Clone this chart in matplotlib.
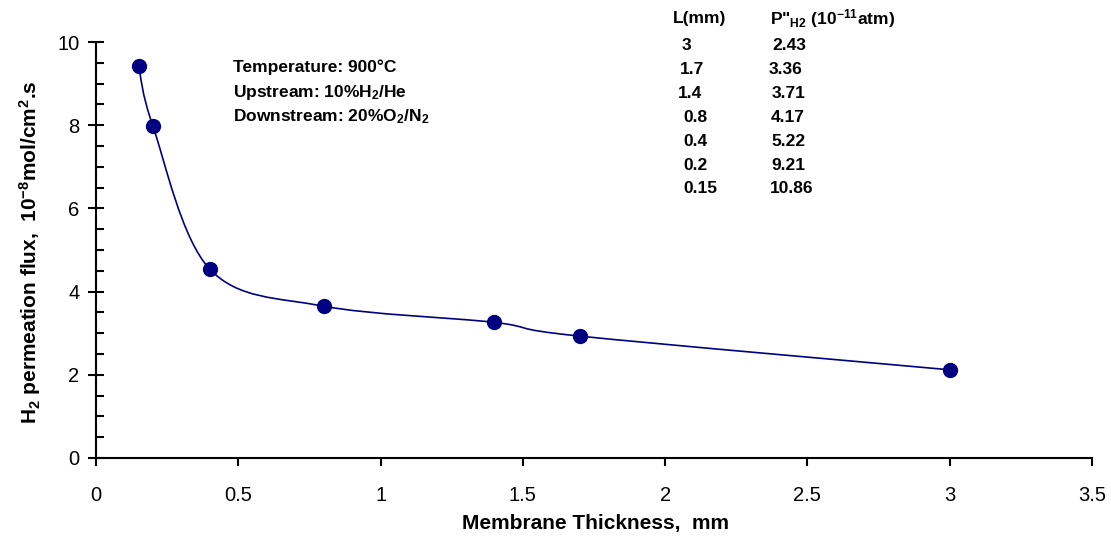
import numpy as np
import matplotlib
matplotlib.use("Agg")
import matplotlib.pyplot as plt
from matplotlib.path import Path
from matplotlib.patches import PathPatch
from matplotlib.ticker import MultipleLocator

plt.rcParams['font.family'] = ['Liberation Sans', 'DejaVu Sans']
plt.rcParams['mathtext.fontset'] = 'custom'
plt.rcParams['mathtext.rm'] = 'Liberation Sans:bold'
plt.rcParams['mathtext.default'] = 'rm'

# membrane thickness (mm) and H2 permeation flux (1e-8 mol/cm2.s)
thickness = [0.15, 0.2, 0.4, 0.8, 1.4, 1.7, 3.0]
flux = [9.43, 7.98, 4.54, 3.65, 3.26, 2.93, 2.12]

x_ticks = [0, 0.5, 1, 1.5, 2, 2.5, 3, 3.5]
x_labels = ['0', '0.5', '1', '1.5', '2', '2.5', '3', '3.5']
y_ticks = [0, 2, 4, 6, 8, 10]
y_labels = ['0', '2', '4', '6', '8', '10']

# table in the top right corner
table_L = ['3', '1.7', '1.4', '0.8', '0.4', '0.2', '0.15']
table_P = ['2.43', '3.36', '3.71', '4.17', '5.22', '9.21', '10.86']

conditions = ['Temperature: 900°C',
              'Upstream: 10%H$_2$/He',
              'Downstream: 20%O$_2$/N$_2$']

navy = '#000080'


def smooth_path(xs, ys):
    # excel style smoothed line: cubic bezier between points
    pts = np.column_stack([xs, ys])
    n = len(pts)
    verts = [pts[0]]
    codes = [Path.MOVETO]
    for i in range(n - 1):
        p0 = pts[i - 1] if i > 0 else pts[i]
        p1 = pts[i]
        p2 = pts[i + 1]
        p3 = pts[i + 2] if i + 2 < n else pts[i + 1]
        c1 = p1 + (p2 - p0) / 6.0
        c2 = p2 - (p3 - p1) / 6.0
        verts += [c1, c2, p2]
        codes += [Path.CURVE4] * 3
    return Path(verts, codes)


fig = plt.figure(figsize=(11.11, 5.39), dpi=100)
ax = fig.add_axes([0.0864, 0.1503, 0.8965, 0.7717])

ax.add_patch(PathPatch(smooth_path(thickness, flux), facecolor='none',
                       edgecolor=navy, lw=1.2, zorder=2))
ax.plot(thickness, flux, 'o', color=navy, markersize=10, zorder=3)

ax.set_xlim(0, 3.5)
ax.set_ylim(0, 10)
ax.set_xticks(x_ticks)
ax.set_xticklabels(x_labels)
ax.set_yticks(y_ticks)
ax.set_yticklabels(y_labels)
ax.yaxis.set_minor_locator(MultipleLocator(0.5))
ax.tick_params(axis='x', direction='out', length=6, width=1.5, labelsize=14.5, pad=14)
ax.tick_params(axis='y', which='major', direction='inout', length=12, width=1.5,
               labelsize=14.5, pad=6)
ax.tick_params(axis='y', which='minor', direction='in', length=6, width=1.5)
for s in ['top', 'right']:
    ax.spines[s].set_visible(False)
for s in ['left', 'bottom']:
    ax.spines[s].set_linewidth(1.5)

fig.text(596 / 1111, 1 - 523 / 539, 'Membrane Thickness,  mm', ha='center', va='center',
         fontsize=15, fontweight='bold')
fig.text(30 / 1111, 1 - 252 / 539, 'H$_2$ permeation flux,  10$^{-8}$mol/cm$^2$.s',
         ha='center', va='center', rotation=90, fontsize=15, fontweight='bold')

for i, t in enumerate(conditions):
    fig.text(233 / 1111, 1 - (67 + 25 * i) / 539, t, ha='left', va='center',
             fontsize=12.5, fontweight='bold')

fig.text(673 / 1111, 1 - 19 / 539, 'L(mm)', ha='left', va='center',
         fontsize=12.5, fontweight='bold')
fig.text(770 / 1111, 1 - 19 / 539, 'P"$_{\\mathregular{H2}}$ (10$^{-11}$atm)',
         ha='left', va='center', fontsize=12.5, fontweight='bold')
l_x = [682, 680, 678, 683, 683, 683, 683]
p_x = [772, 769, 772, 771, 771, 771, 770]
for i, (l, p) in enumerate(zip(table_L, table_P)):
    yy = 1 - (46 + 23.8 * i) / 539
    fig.text(l_x[i] / 1111, yy, l, ha='left', va='center', fontsize=12.5, fontweight='bold')
    fig.text(p_x[i] / 1111, yy, p, ha='left', va='center', fontsize=12.5, fontweight='bold')

fig.savefig('out.png', dpi=100)
